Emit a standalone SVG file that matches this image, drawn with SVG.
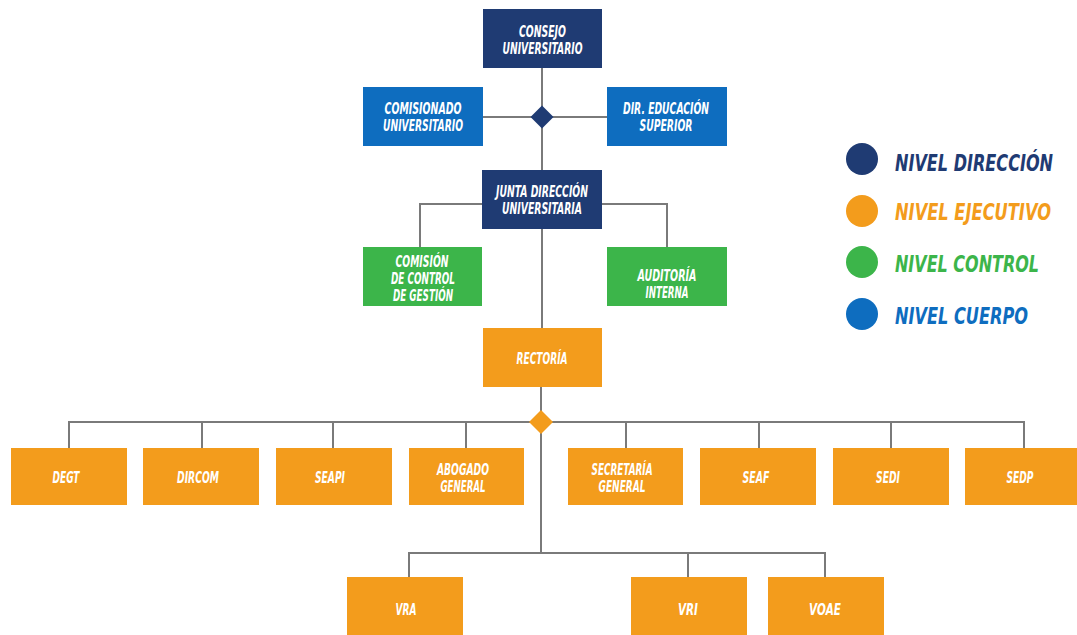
<svg xmlns="http://www.w3.org/2000/svg" width="1077" height="635" viewBox="0 0 1077 635">
<style>
.dir{fill:#1f3b73}
.cue{fill:#0e6dbf}
.con{fill:#3cb54a}
.eje{fill:#f39c1c}
.t{font-family:"Liberation Sans Narrow","DejaVu Sans Condensed","Liberation Sans",sans-serif;font-weight:bold;font-style:italic;fill:#ffffff;font-size:16px;text-anchor:middle}
.lg{font-family:"Liberation Sans Narrow","DejaVu Sans Condensed","Liberation Sans",sans-serif;font-weight:bold;font-style:italic;font-size:20px}
.ln{stroke:#7a7a7a;stroke-width:2;fill:none}
</style>
<rect width="1077" height="635" fill="#ffffff"/>
<g id="connectors">
<path class="ln" d="M542 68V170M483 117H607"/>
<path class="ln" d="M482 204H420V247M602 204H667V247"/>
<path class="ln" d="M542 229V328"/>
<path class="ln" d="M541 387V553"/>
<path class="ln" d="M69 422H1024M69 421V448M202 421V448M333 421V448M466 421V448M626 421V448M759 421V448M891 421V448M1024 421V448"/>
<path class="ln" d="M409 553H825M409 552V577M688 552V577M825 552V577"/>
<polygon points="542,105.5 553.5,117 542,128.5 530.5,117" fill="#1f3b73"/>
<polygon points="541,410 553,422 541,434 529,422" fill="#f39c1c"/>
</g>
<g id="consejo"><rect class="dir" x="483" y="9" width="119" height="59"/>
<text class="t" x="542.5" y="37" textLength="47" lengthAdjust="spacingAndGlyphs">CONSEJO</text>
<text class="t" x="542.5" y="54" textLength="80" lengthAdjust="spacingAndGlyphs">UNIVERSITARIO</text></g>
<g id="comisionado"><rect class="cue" x="363" y="87" width="120" height="59"/>
<text class="t" x="423" y="114" textLength="77" lengthAdjust="spacingAndGlyphs">COMISIONADO</text>
<text class="t" x="423" y="131" textLength="80" lengthAdjust="spacingAndGlyphs">UNIVERSITARIO</text></g>
<g id="dir-educacion"><rect class="cue" x="607" y="87" width="120" height="59"/>
<text class="t" x="666" y="114" textLength="86" lengthAdjust="spacingAndGlyphs">DIR. EDUCACIÓN</text>
<text class="t" x="666" y="131" textLength="53" lengthAdjust="spacingAndGlyphs">SUPERIOR</text></g>
<g id="junta"><rect class="dir" x="482" y="170" width="120" height="59"/>
<text class="t" x="542" y="197" textLength="92" lengthAdjust="spacingAndGlyphs">JUNTA DIRECCIÓN</text>
<text class="t" x="542" y="214" textLength="80" lengthAdjust="spacingAndGlyphs">UNIVERSITARIA</text></g>
<g id="comision-control"><rect class="con" x="363" y="247" width="119" height="59"/>
<text class="t" x="422" y="267" textLength="53" lengthAdjust="spacingAndGlyphs">COMISIÓN</text>
<text class="t" x="423" y="284" textLength="64" lengthAdjust="spacingAndGlyphs">DE CONTROL</text>
<text class="t" x="423" y="301" textLength="60" lengthAdjust="spacingAndGlyphs">DE GESTIÓN</text></g>
<g id="auditoria"><rect class="con" x="607" y="247" width="120" height="59"/>
<text class="t" x="667" y="281" textLength="59" lengthAdjust="spacingAndGlyphs">AUDITORÍA</text>
<text class="t" x="667" y="298" textLength="43" lengthAdjust="spacingAndGlyphs">INTERNA</text></g>
<g id="rectoria"><rect class="eje" x="483" y="328" width="119" height="59"/>
<text class="t" x="542" y="364" textLength="51" lengthAdjust="spacingAndGlyphs">RECTORÍA</text></g>
<g id="degt"><rect class="eje" x="11" y="448" width="116" height="57"/>
<text class="t" x="66" y="483" textLength="27" lengthAdjust="spacingAndGlyphs">DEGT</text></g>
<g id="dircom"><rect class="eje" x="143" y="448" width="116" height="57"/>
<text class="t" x="198" y="483" textLength="42" lengthAdjust="spacingAndGlyphs">DIRCOM</text></g>
<g id="seapi"><rect class="eje" x="276" y="448" width="116" height="57"/>
<text class="t" x="330" y="483" textLength="30" lengthAdjust="spacingAndGlyphs">SEAPI</text></g>
<g id="abogado"><rect class="eje" x="409" y="448" width="115" height="57"/>
<text class="t" x="463" y="475" textLength="52" lengthAdjust="spacingAndGlyphs">ABOGADO</text>
<text class="t" x="463" y="492" textLength="45" lengthAdjust="spacingAndGlyphs">GENERAL</text></g>
<g id="secretaria"><rect class="eje" x="568" y="448" width="115" height="57"/>
<text class="t" x="622" y="475" textLength="61" lengthAdjust="spacingAndGlyphs">SECRETARÍA</text>
<text class="t" x="622" y="492" textLength="47" lengthAdjust="spacingAndGlyphs">GENERAL</text></g>
<g id="seaf"><rect class="eje" x="700" y="448" width="116" height="57"/>
<text class="t" x="756" y="483" textLength="27" lengthAdjust="spacingAndGlyphs">SEAF</text></g>
<g id="sedi"><rect class="eje" x="833" y="448" width="116" height="57"/>
<text class="t" x="888" y="483" textLength="24" lengthAdjust="spacingAndGlyphs">SEDI</text></g>
<g id="sedp"><rect class="eje" x="965" y="448" width="116" height="57"/>
<text class="t" x="1020" y="483" textLength="27" lengthAdjust="spacingAndGlyphs">SEDP</text></g>
<g id="vra"><rect class="eje" x="347" y="577" width="116" height="58"/>
<text class="t" x="406" y="615" textLength="21" lengthAdjust="spacingAndGlyphs">VRA</text></g>
<g id="vri"><rect class="eje" x="631" y="577" width="116" height="58"/>
<text class="t" x="688" y="615" textLength="20" lengthAdjust="spacingAndGlyphs">VRI</text></g>
<g id="voae"><rect class="eje" x="768" y="577" width="116" height="58"/>
<text class="t" x="825" y="615" textLength="32" lengthAdjust="spacingAndGlyphs">VOAE</text></g>
<g id="legend">
<circle cx="862" cy="159" r="16" fill="#1f3b73"/>
<text class="lg" transform="translate(895,171) scale(1,1.18)" fill="#1f3b73" textLength="158" lengthAdjust="spacingAndGlyphs">NIVEL DIRECCIÓN</text>
<circle cx="862" cy="211" r="16" fill="#f39c1c"/>
<text class="lg" transform="translate(895,220) scale(1,1.18)" fill="#f39c1c" textLength="156" lengthAdjust="spacingAndGlyphs">NIVEL EJECUTIVO</text>
<circle cx="862" cy="262" r="16" fill="#3cb54a"/>
<text class="lg" transform="translate(895,272) scale(1,1.18)" fill="#3cb54a" textLength="144" lengthAdjust="spacingAndGlyphs">NIVEL CONTROL</text>
<circle cx="862" cy="314" r="16" fill="#0e6dbf"/>
<text class="lg" transform="translate(895,324) scale(1,1.18)" fill="#0e6dbf" textLength="133" lengthAdjust="spacingAndGlyphs">NIVEL CUERPO</text>
</g>
</svg>
